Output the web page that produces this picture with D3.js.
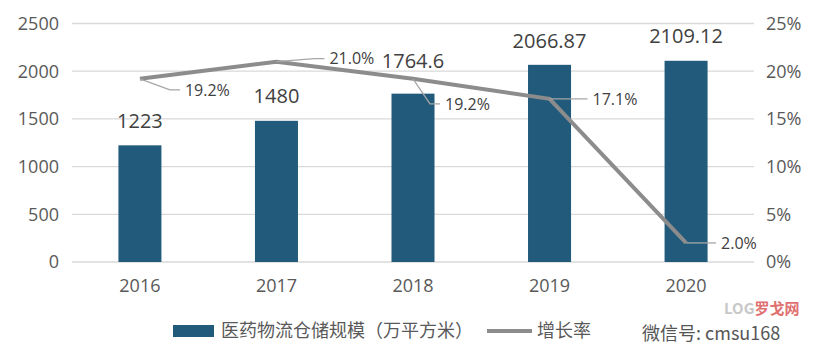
<!DOCTYPE html>
<html lang="zh">
<head>
<meta charset="UTF-8">
<title>医药物流仓储规模</title>
<script src="https://cdn.jsdelivr.net/npm/d3@7/dist/d3.min.js"></script>
<style>
  body { margin: 0; background: #fff; }
  text { font-family: "Open Sans", "Noto Sans CJK SC", sans-serif; fill: #595959; }
</style>
</head>
<body>
<script>
// data
var years = ["2016", "2017", "2018", "2019", "2020"];
var scale = [1223, 1480, 1764.6, 2066.87, 2109.12];
var scaleLabels = ["1223", "1480", "1764.6", "2066.87", "2109.12"];
var growth = [19.2, 21.0, 19.2, 17.1, 2.0];
var leftTicks = [0, 500, 1000, 1500, 2000, 2500];
var rightTicks = [0, 5, 10, 15, 20, 25];

var W = 820, H = 363;
var svg = d3.select("body").append("svg").attr("width", W).attr("height", H);

var x = d3.scaleBand().domain(years).range([72, 754]).paddingInner(0.685).paddingOuter(0.34);
var y = d3.scaleLinear().domain([0, 2500]).range([262, 23.5]);
var y2 = d3.scaleLinear().domain([0, 25]).range([262, 23.5]);
var cx = function (i) { return x(years[i]) + x.bandwidth() / 2; };

// grid
svg.append("g").selectAll("line").data(leftTicks).join("line")
  .attr("x1", 72).attr("x2", 754)
  .attr("y1", function (d) { return y(d); }).attr("y2", function (d) { return y(d); })
  .attr("stroke", "#d9d9d9").attr("stroke-width", 1.3);

// left axis labels
svg.append("g").selectAll("text").data(leftTicks).join("text")
  .attr("x", 59).attr("y", function (d) { return y(d); }).attr("dy", "0.36em")
  .attr("text-anchor", "end").style("font-size", "18px").text(function (d) { return d; });

// right axis labels
svg.append("g").selectAll("text").data(rightTicks).join("text")
  .attr("x", 766).attr("y", function (d) { return y2(d); }).attr("dy", "0.36em")
  .style("font-size", "18px").text(function (d) { return d + "%"; });

// x labels
svg.append("g").selectAll("text").data(years).join("text")
  .attr("x", function (d, i) { return cx(i); }).attr("y", 292)
  .attr("text-anchor", "middle").style("font-size", "18px").text(function (d) { return d; });

// bars
svg.append("g").selectAll("rect").data(scale).join("rect")
  .attr("x", function (d, i) { return x(years[i]); })
  .attr("y", function (d) { return y(d); })
  .attr("width", x.bandwidth())
  .attr("height", function (d) { return y(0) - y(d); })
  .attr("fill", "#215a7b");

// bar labels (2018 label is lifted above the line)
var barLabelGap = [17, 18, 26, 17, 18];
svg.append("g").selectAll("text").data(scale).join("text")
  .attr("x", function (d, i) { return cx(i); })
  .attr("y", function (d, i) { return y(d) - barLabelGap[i]; })
  .attr("text-anchor", "middle").style("font-size", "20px")
  .style("fill", "#404040")
  .text(function (d, i) { return scaleLabels[i]; });

// growth line
var line = d3.line().x(function (d, i) { return cx(i); }).y(function (d) { return y2(d); });
svg.append("path").datum(growth).attr("d", line)
  .attr("fill", "none").attr("stroke", "#8c8c8c").attr("stroke-width", 4);

// leader lines + labels (offsets relative to point)
var lab = [
  { dx: 30, dy: 11, seg: 10 },
  { dx: 38, dy: -3, seg: 10 },
  { dx: 17, dy: 25, seg: 10 },
  { dx: 0, dy: 0, seg: 38 },
  { dx: 0, dy: 0, seg: 30 }
];
var gl = svg.append("g");
growth.forEach(function (g, i) {
  var px = cx(i), py = y2(g), o = lab[i];
  var ex = px + o.dx, ey = py + o.dy;
  gl.append("path")
    .attr("d", "M" + px + "," + py + "L" + ex + "," + ey + "L" + (ex + o.seg) + "," + ey)
    .attr("fill", "none").attr("stroke", "#a6a6a6").attr("stroke-width", 1.3);
  gl.append("text").attr("x", ex + o.seg + 5).attr("y", ey).attr("dy", "0.36em")
    .style("font-size", "16px").style("fill", "#404040").text(g.toFixed(1) + "%");
});

// legend
var lg = svg.append("g");
lg.append("rect").attr("x", 173).attr("y", 325).attr("width", 41).attr("height", 12).attr("fill", "#215a7b");
lg.append("text").attr("x", 221).attr("y", 331).attr("dy", "0.36em")
  .style("font-size", "18px").style("font-family", "'Noto Sans CJK SC'").text("医药物流仓储规模（万平方米）");
lg.append("line").attr("x1", 487).attr("x2", 532).attr("y1", 331).attr("y2", 331)
  .attr("stroke", "#8c8c8c").attr("stroke-width", 4);
lg.append("text").attr("x", 537).attr("y", 331).attr("dy", "0.36em")
  .style("font-size", "18px").style("font-family", "'Noto Sans CJK SC'").text("增长率");

// watermark
var wm = svg.append("g");
wm.append("text").attr("x", 724).attr("y", 314)
  .style("font-size", "15px").style("font-weight", "bold").style("fill", "#c8c8c8")
  .style("font-family", "'Noto Sans CJK SC'").text("LOG")
  .append("tspan").style("fill", "#e07070").text("罗戈网");
wm.append("text").attr("x", 642).attr("y", 340)
  .style("font-size", "18px").style("fill", "#555").style("font-family", "'Noto Sans CJK SC'")
  .text("微信号: cmsu168");
</script>
</body>
</html>
